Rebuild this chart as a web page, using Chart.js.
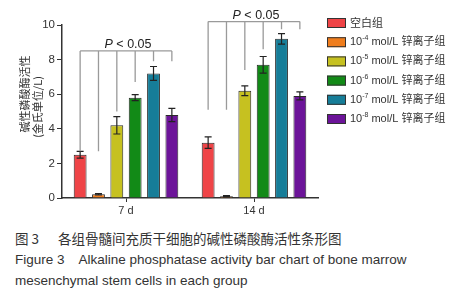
<!DOCTYPE html>
<html>
<head>
<meta charset="utf-8">
<script src="https://cdn.jsdelivr.net/npm/chart.js@4/dist/chart.umd.min.js"></script>
<style>
body { margin: 0; background: #fff; width: 463px; height: 300px; overflow: hidden; position: relative;
       font-family: "Liberation Sans", Arial, "Noto Sans CJK SC", sans-serif; color: #333; }
#wrap { position: absolute; left: 0; top: 0; width: 463px; height: 225px; }
.cap { position: absolute; left: 15px; font-size: 13.5px; white-space: nowrap; line-height: 16px; }
.cap .zh { font-family: "Noto Sans CJK SC", sans-serif; }
</style>
</head>
<body>
<div id="wrap"><canvas id="c"></canvas></div>
<div class="cap" style="top:230px"><span class="zh">图 3</span><span class="zh" style="margin-left:19px">各组骨髓间充质干细胞的碱性磷酸酶活性条形图</span></div>
<div class="cap" style="top:252px">Figure 3<span style="margin-left:14px">Alkaline phosphatase activity bar chart of bone marrow</span></div>
<div class="cap" style="top:273px">mesenchymal stem cells in each group</div>
<script>
// categories + groups
const days = ['7 d', '14 d'];
const groups = ['空白组', '10^-4 mol/L 锌离子组', '10^-5 mol/L 锌离子组', '10^-6 mol/L 锌离子组', '10^-7 mol/L 锌离子组', '10^-8 mol/L 锌离子组'];
const colors = ['#ef4447', '#f07d1c', '#c6c120', '#128a17', '#167d98', '#6c1499'];

// ALP activity (King units/L)
const blank = [2.5, 3.2];
const zn4 = [0.22, 0.1];
const zn5 = [4.2, 6.2];
const zn6 = [5.8, 7.7];
const zn7 = [7.2, 9.2];
const zn8 = [4.8, 5.9];

const blankErr = [0.2, 0.33];
const zn4Err = [0.04, 0.04];
const zn5Err = [0.5, 0.28];
const zn6Err = [0.17, 0.48];
const zn7Err = [0.4, 0.3];
const zn8Err = [0.38, 0.23];

// significance brackets
const bracketTop = [8.5, 10.2];
const bracketEnds7 = [2.7, 2.7, 5.0, 6.7, 7.9, 7.9];
const bracketEnds14 = [5.1, 5.1, 7.4, 8.6, 9.75, 9.75];
const pLabel = '< 0.05';

const yTitle = ['碱性磷酸酶活性', '(金氏单位/L)'];

const series = [blank, zn4, zn5, zn6, zn7, zn8];
const errors = [blankErr, zn4Err, zn5Err, zn6Err, zn7Err, zn8Err];

const errorBars = {
    id: 'errorBars',
    afterDatasetsDraw(chart) {
        const ctx = chart.ctx;
        const y = chart.scales.y;
        ctx.save();
        ctx.strokeStyle = '#222';
        ctx.lineWidth = 1.2;
        chart.data.datasets.forEach((ds, i) => {
            chart.getDatasetMeta(i).data.forEach((bar, j) => {
                const v = ds.data[j], e = errors[i][j];
                const top = y.getPixelForValue(v + e), bot = y.getPixelForValue(Math.max(0, v - e));
                ctx.beginPath();
                ctx.moveTo(bar.x, top); ctx.lineTo(bar.x, bot);
                ctx.moveTo(bar.x - 3.5, top); ctx.lineTo(bar.x + 3.5, top);
                ctx.moveTo(bar.x - 3.5, bot); ctx.lineTo(bar.x + 3.5, bot);
                ctx.stroke();
            });
        });
        ctx.restore();
    }
};

const extras = {
    id: 'extras',
    afterDraw(chart) {
        const ctx = chart.ctx;
        const y = chart.scales.y;
        ctx.save();
        // brackets
        const ends = [bracketEnds7, bracketEnds14];
        ctx.strokeStyle = '#9a9a9a';
        ctx.lineWidth = 1.3;
        days.forEach((d, j) => {
            const xs = chart.data.datasets.map((ds, i) => chart.getDatasetMeta(i).data[j].x);
            const yt = y.getPixelForValue(bracketTop[j]);
            ctx.beginPath();
            ctx.moveTo(xs[0], yt); ctx.lineTo(xs[xs.length - 1], yt);
            xs.forEach((x, i) => {
                ctx.moveTo(x, yt); ctx.lineTo(x, y.getPixelForValue(ends[j][i]));
            });
            ctx.stroke();
            // P < 0.05
            const cx = (xs[0] + xs[xs.length - 1]) / 2 + 2;
            ctx.fillStyle = '#222';
            ctx.textBaseline = 'alphabetic';
            ctx.font = 'italic 12.5px "Liberation Sans", Arial';
            const w1 = ctx.measureText('P ').width;
            ctx.font = '12.5px "Liberation Sans", Arial';
            const w2 = ctx.measureText(pLabel).width;
            const x0 = cx - (w1 + w2) / 2;
            ctx.font = 'italic 12.5px "Liberation Sans", Arial';
            ctx.textAlign = 'left';
            ctx.fillText('P', x0, yt - 3);
            ctx.font = '12.5px "Liberation Sans", Arial';
            ctx.fillText(pLabel, x0 + w1, yt - 3);
        });

        // legend
        chart.data.datasets.forEach((ds, i) => {
            const top = 18 + i * 19.2;
            ctx.fillStyle = ds.backgroundColor;
            ctx.fillRect(327, top, 19, 10);
            ctx.strokeStyle = '#333';
            ctx.lineWidth = 1;
            ctx.strokeRect(327.5, top + 0.5, 18, 9);
            ctx.fillStyle = '#333';
            ctx.textBaseline = 'middle';
            ctx.textAlign = 'left';
            const m = ds.label.match(/^10\^(\S+)\s(.*)$/);
            let x = 350;
            const ym = top + 5;
            if (m) {
                ctx.font = '11px "Liberation Sans", Arial';
                ctx.fillText('10', x, ym);
                x += ctx.measureText('10').width;
                ctx.font = '7px "Liberation Sans", Arial';
                ctx.fillText(m[1], x, ym - 4);
                x += ctx.measureText(m[1]).width + 3;
                ctx.font = '11px "Liberation Sans", Arial, "Noto Sans CJK SC"';
                ctx.fillText(m[2], x, ym);
            } else {
                ctx.font = '11px "Noto Sans CJK SC", sans-serif';
                ctx.fillText(ds.label, x, ym);
            }
        });

        // y title
        ctx.fillStyle = '#333';
        ctx.font = '11px "Noto Sans CJK SC", sans-serif';
        ctx.textAlign = 'center';
        ctx.textBaseline = 'middle';
        [[25, 94], [38, 107]].forEach((p, k) => {
            ctx.save();
            ctx.translate(p[0], p[1]);
            ctx.rotate(-Math.PI / 2);
            ctx.fillText(yTitle[k], 0, 0);
            ctx.restore();
        });
        ctx.restore();
    }
};

new Chart(document.getElementById('c'), {
    type: 'bar',
    data: {
        labels: days,
        datasets: groups.map((g, i) => ({
            label: g,
            data: series[i],
            backgroundColor: colors[i],
            borderColor: '#2a2a2a',
            borderWidth: 1
        }))
    },
    options: {
        responsive: true,
        maintainAspectRatio: false,
        animation: false,
        layout: { padding: { top: 25, right: 145, bottom: 7, left: 0 } },
        datasets: { bar: { categoryPercentage: 0.86, barPercentage: 0.7 } },
        plugins: { legend: { display: false }, tooltip: { enabled: false } },
        scales: {
            x: {
                afterFit: s => { s.height = 20; },
                border: { color: '#333', width: 1.5 },
                grid: { drawOnChartArea: false, offset: false, tickLength: 4, color: '#333' },
                ticks: { color: '#333', font: { size: 11, family: '"Liberation Sans", Arial' }, padding: 2 }
            },
            y: {
                min: 0, max: 10,
                afterFit: s => { s.width = 62; },
                border: { color: '#333', width: 1.5 },
                grid: { drawOnChartArea: false, tickLength: 5, color: '#333' },
                ticks: { stepSize: 2, color: '#333', font: { size: 11.5, family: '"Liberation Sans", Arial' }, padding: 2 }
            }
        }
    },
    plugins: [errorBars, extras]
});
</script>
</body>
</html>
